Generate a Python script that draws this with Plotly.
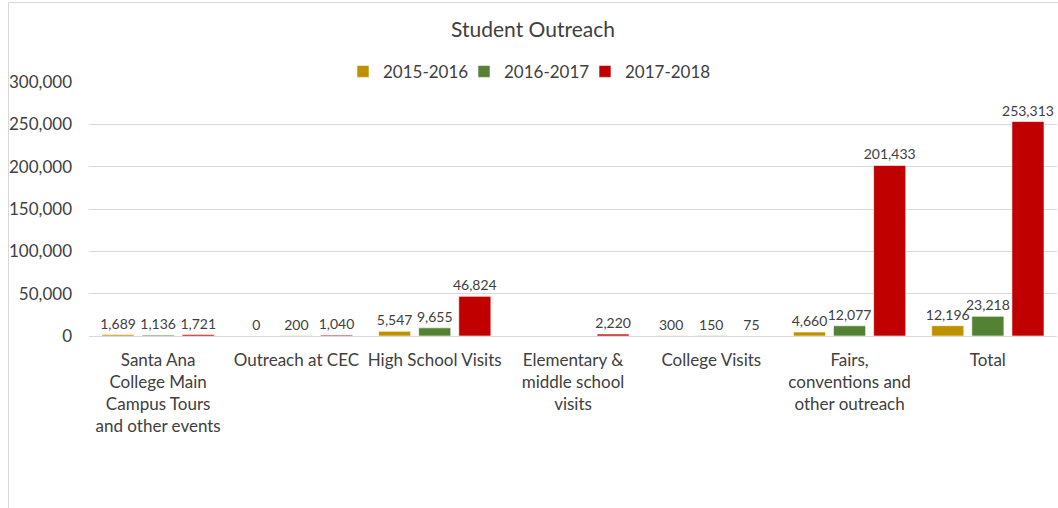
import plotly.graph_objects as go

categories = [
    "Santa Ana<br>College Main<br>Campus Tours<br>and other events",
    "Outreach at CEC",
    "High School Visits",
    "Elementary &<br>middle school<br>visits",
    "College Visits",
    "Fairs,<br>conventions and<br>other outreach",
    "Total",
]
series_names = ["2015-2016", "2016-2017", "2017-2018"]
v_2015 = [1689, 0, 5547, None, 300, 4660, 12196]
v_2016 = [1136, 200, 9655, None, 150, 12077, 23218]
v_2017 = [1721, 1040, 46824, 2220, 75, 201433, 253313]
colors = ["#BF9000", "#548235", "#C00000"]
tick_vals = [0, 50000, 100000, 150000, 200000, 250000, 300000]

FONT = "Lato"
TXT = "#404040"

fig = go.Figure()
for name, vals, col in zip(series_names, [v_2015, v_2016, v_2017], colors):
    fig.add_trace(go.Bar(
        name=name, x=categories, y=vals,
        marker=dict(color=col, line=dict(color="rgba(255,255,255,0.6)", width=1)),
        text=[("" if v is None else f"{v:,}") for v in vals],
        textposition="outside", constraintext="none", cliponaxis=False,
        textfont=dict(family=FONT, size=14, color=TXT),
    ))

# invisible spacer entry so the last legend label is not clipped
fig.add_trace(go.Scatter(x=[None], y=[None], mode="markers", name=" ",
                         marker=dict(color="rgba(0,0,0,0)"), hoverinfo="skip"))

fig.update_layout(
    width=1058, height=508,
    margin=dict(l=89, r=1, t=82, b=172),
    paper_bgcolor="white", plot_bgcolor="white",
    barmode="group", bargap=0.13, bargroupgap=0.2,
    font=dict(family=FONT, color=TXT),
    title=dict(text="Student Outreach", x=533 / 1058, xref="container", xanchor="center",
               y=1 - 30 / 508, yref="container", yanchor="middle",
               font=dict(family=FONT, size=21, color=TXT)),
    legend=dict(orientation="h", x=(343 - 89) / 968, xanchor="left", y=1.04, yanchor="middle",
                font=dict(family=FONT, size=17, color=TXT), traceorder="normal",
                entrywidth=76, entrywidthmode="pixels", itemwidth=30,
                bgcolor="rgba(0,0,0,0)"),
    showlegend=True,
)
fig.update_yaxes(range=[0, 300000], tickvals=tick_vals, tickformat=",",
                 showgrid=True, gridcolor="#D9D9D9", gridwidth=1,
                 zeroline=True, zerolinecolor="#D9D9D9", zerolinewidth=1,
                 tickfont=dict(family=FONT, size=17, color=TXT), ticks="", showline=False,
                 ticklabelstandoff=16)
fig.update_xaxes(tickfont=dict(family=FONT, size=17, color=TXT), ticks="",
                 showline=False, tickangle=0, ticklabelstandoff=12)

# chart frame border
fig.add_shape(type="rect", xref="paper", yref="paper",
              x0=(8.5 - 89) / 968, x1=(1070 - 89) / 968,
              y0=(336 - 520) / 254, y1=(336 - 2.5) / 254,
              line=dict(color="#D9D9D9", width=1), fillcolor="rgba(0,0,0,0)", layer="below")

fig.write_html("out.html", config={"displayModeBar": False},
               post_script="document.body.style.margin='0';document.body.style.overflow='hidden';")
